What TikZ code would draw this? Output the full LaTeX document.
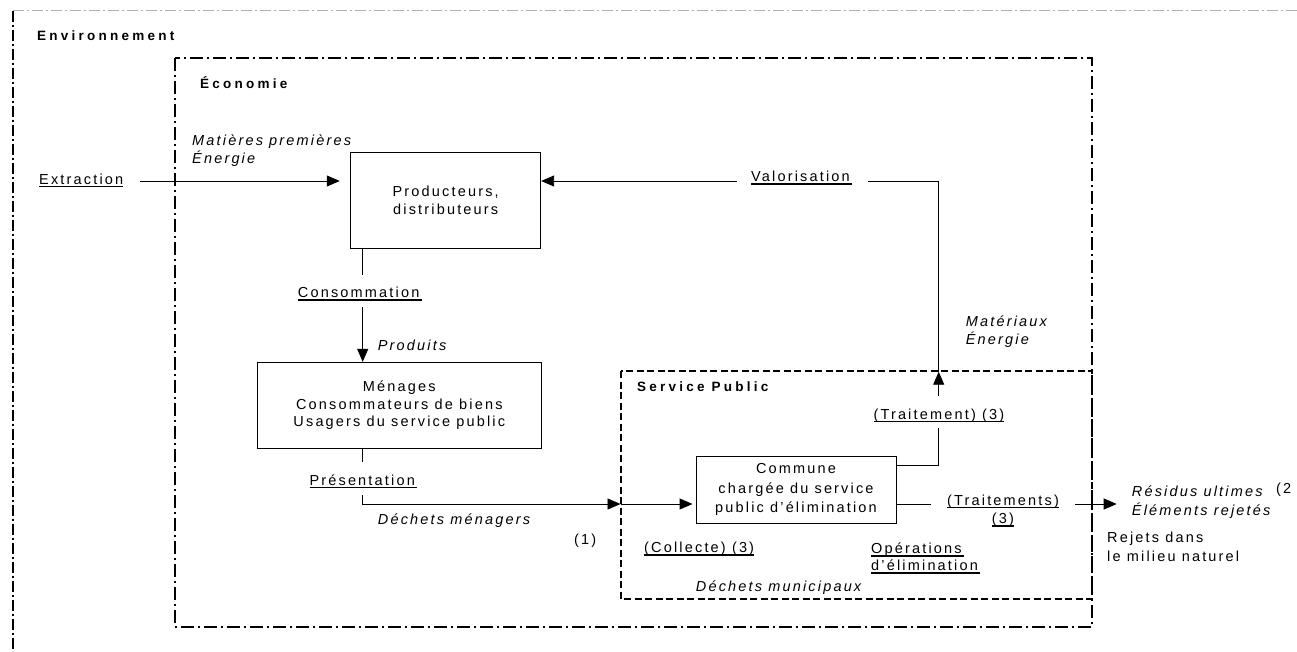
\documentclass[tikz,border=0pt]{standalone}
\usepackage{fontspec}
\setmainfont{Liberation Sans}[LetterSpace=15]
\newfontfamily\titlefont{Liberation Sans}[LetterSpace=24]
\usetikzlibrary{arrows.meta}
\newcommand\ulx[1]{\vtop{\hbox{\raisebox{0pt}[\height][0pt]{#1}}\kern1.6pt\hrule height 1.6pt}}
\newcommand\lstack[1]{\vtop{\halign{##\hfil\cr#1\crcr}}}
\newcommand\cstack[1]{\vtop{\halign{\hfil##\hfil\cr#1\crcr}}}
\tikzset{
  every node/.style={font=\fontsize{14.5}{18}\selectfont, inner sep=0pt},
  lbl/.style={anchor=base west},
  ital/.style={anchor=base west, font=\fontsize{14.5}{17.6}\selectfont\itshape},
  ttl/.style={anchor=base west, font=\titlefont\bfseries\fontsize{13.5}{15}\selectfont},
  box/.style={draw, line width=0.9pt, align=center},
  conn/.style={line width=0.9pt},
  arr/.style={conn, -{Triangle[length=13pt,width=11pt]}},
  envtop/.style={draw=black!30, line width=0.8pt, dash pattern=on 11pt off 3pt on 2pt off 3pt},
  envleft/.style={line width=2.4pt, dash pattern=on 11pt off 3pt on 2pt off 3pt},
  econ/.style={line width=2pt, dash pattern=on 13pt off 4pt on 2pt off 4pt},
  serv/.style={line width=1.8pt, dash pattern=on 7pt off 3.5pt},
}
\begin{document}
\begin{tikzpicture}[x=1pt,y=-1pt]
\useasboundingbox (0,0) rectangle (1297,652);
% frames
\draw[envtop] (13,10.7) -- (1297,10.7);
\draw[envleft] (13,10.7) -- (13,652);
\draw[serv] (621,371) rectangle (1092.3,598.7);
\draw[econ] (174.5,58.3) rectangle (1092.3,626.7);
% titles
\node[ttl] (env) at (37,40.7) {Environnement};
\node[ttl] (eco) at (200,88.3) {Économie};
\node[ttl] (sp) at (637,391) {Service Public};
% boxes
\node[box, minimum width=190pt, minimum height=96.3pt, font=\fontsize{14.5}{18.4}\selectfont] (prod) at (445.7,200.2) {Producteurs,\\distributeurs};
\node[box, minimum width=283.3pt, minimum height=86pt, font=\fontsize{14.5}{17.3}\selectfont] (men) at (399.3,405.3) {Ménages\\Consommateurs de biens\\Usagers du service public};
\node[box, minimum width=200pt, minimum height=67pt, font=\fontsize{14.5}{19.6}\selectfont] (com) at (796,489.5) {Commune\\chargée du service\\public d’élimination};
% labels
\node[lbl] (extr) at (39,184.3) {\ulx{Extraction}};
\node[ital] (matp) at (192,145.7) {\lstack{Matières premières\cr Énergie}};
\node[lbl] (valo) at (751,181.7) {\ulx{Valorisation\,}};
\node[lbl] (cons) at (297.7,297.7) {\ulx{Consommation\,}};
\node[ital] (prodts) at (377.7,350) {Produits};
\node[lbl] (pres) at (309.3,485) {\ulx{Présentation\,}};
\node[ital] (dmen) at (377.7,524.3) {Déchets ménagers};
\node[lbl] (n1) at (574,544.3) {(1)};
\node[lbl] (coll) at (644,552.7) {\ulx{(Collecte) (3)}};
\node[ital] (dmun) at (695.7,591.7) {Déchets municipaux};
\node[lbl, font=\fontsize{14.5}{17.4}\selectfont] (oper) at (871,553.3) {\lstack{\ulx{Opérations\,}\cr\ulx{d’élimination\,}}};
\node[anchor=base, font=\fontsize{14.5}{18.3}\selectfont] (trts) at (1003,505) {\cstack{\ulx{(Traitements)}\cr\ulx{(3)}}};
\node[lbl] (trt) at (873.3,419) {\ulx{(Traitement) (3)}};
\node[ital, font=\fontsize{14.5}{17.3}\selectfont\itshape] (mat) at (965.7,326.7) {\lstack{Matériaux\cr Énergie}};
\node[ital, font=\fontsize{14.5}{19}\selectfont\itshape] (res) at (1131.7,496) {\lstack{Résidus ultimes\cr Éléments rejetés}};
\node[lbl] (n2) at (1276,493.3) {(2};
\node[lbl, font=\fontsize{14.5}{19.4}\selectfont] (rej) at (1107,542.3) {\lstack{Rejets dans\cr le milieu naturel}};
% connector coordinates
\coordinate (cx) at (362.7,0);
\coordinate (e1) at (140,181);
\coordinate (v1) at (736.7,181);
\coordinate (v2) at (868.3,181);
\coordinate (up) at (938.7,371.7);
\coordinate (t1) at (938.7,396);
\coordinate (t2) at (938.7,428);
\coordinate (h1) at (0,465.7);
\coordinate (h2) at (0,504);
\coordinate (c1) at (362.7,275);
\coordinate (c2) at (362.7,307.3);
\coordinate (p1) at (362.7,462.3);
\coordinate (p2) at (362.7,495);
\coordinate (sp1) at (620.5,504);
\coordinate (o1) at (931,504);
\coordinate (o2) at (1075,504);
\coordinate (o3) at (1116.7,504);
% connectors
\draw[arr, shorten >=10.5pt] (e1) -- (e1 -| prod.west);
\draw[arr] (v1) -- (v1 -| prod.east);
\draw[conn] (v2) -- (v2 -| up) -- (up);
\draw[arr] (t1) -- (up);
\draw[conn] (t2) -- (t2 |- h1) -- (com.east |- h1);
\draw[conn] (prod.south -| cx) -- (c1);
\draw[arr] (c2) -- (men.north -| cx);
\draw[conn] (men.south -| cx) -- (p1);
\draw[arr] (p2) -- (p2 |- h2) -- (sp1);
\draw[arr, shorten >=3pt] (sp1) -- (com.west |- h2);
\draw[conn] (com.east |- h2) -- (o1);
\draw[arr] (o2) -- (o3);
\end{tikzpicture}
\end{document}
